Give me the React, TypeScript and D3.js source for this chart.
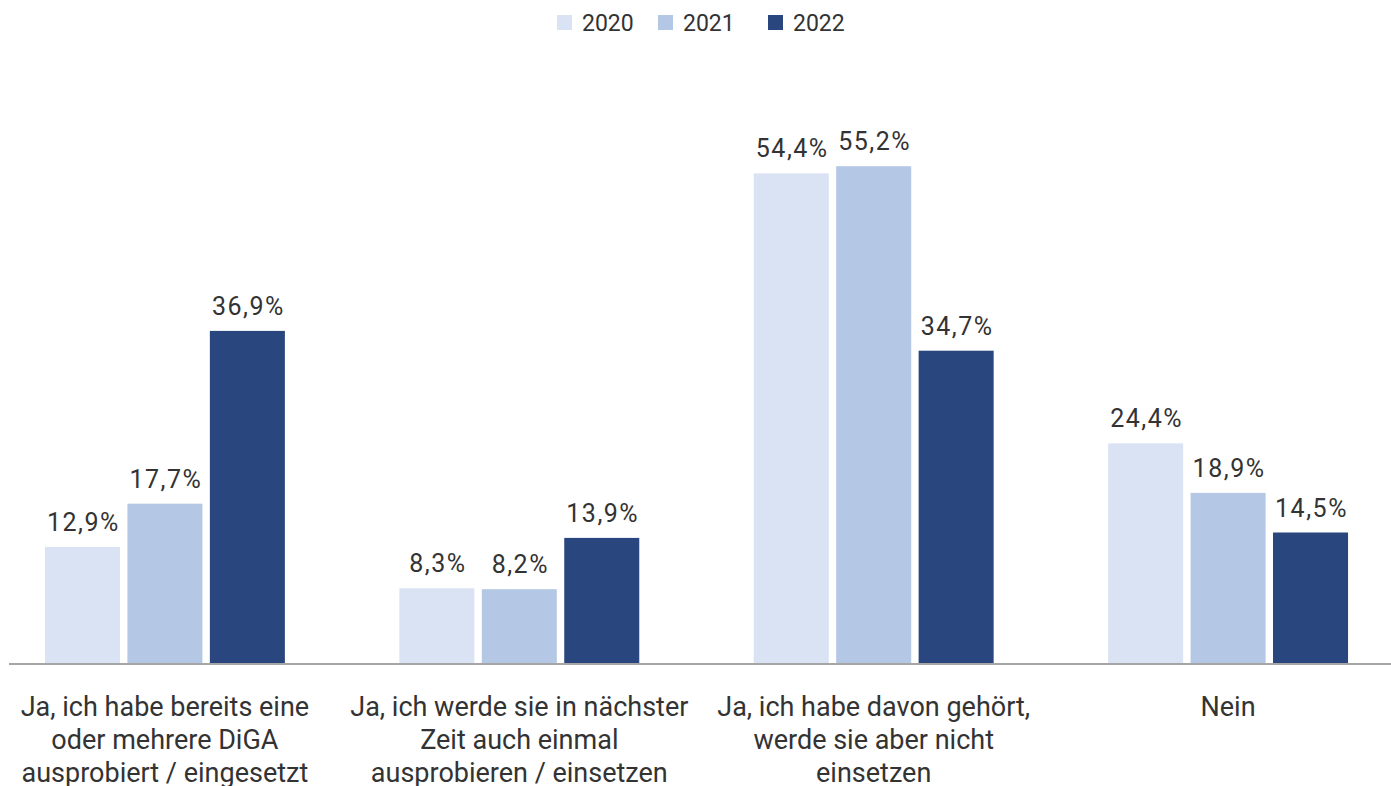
import React from "react";
import * as d3 from "d3";

const categories = [
  ["Ja, ich habe bereits eine", "oder mehrere DiGA", "ausprobiert / eingesetzt"],
  ["Ja, ich werde sie in nächster", "Zeit auch einmal", "ausprobieren / einsetzen"],
  ["Ja, ich habe davon gehört,", "werde sie aber nicht", "einsetzen"],
  ["Nein"],
];
const categoryKeys = ["c1", "c2", "c3", "c4"];
const years = ["2020", "2021", "2022"];
const values2020 = [12.9, 8.3, 54.4, 24.4];
const values2021 = [17.7, 8.2, 55.2, 18.9];
const values2022 = [36.9, 13.9, 34.7, 14.5];
const colors = ["#dae3f3", "#b4c8e6", "#29467e"];

const W = 1391;
const H = 786;
const font = "Roboto, 'Noto Sans', sans-serif";

export default function App() {
  const series = [values2020, values2021, values2022];
  const x0 = d3.scaleBand().domain(categoryKeys).range([12, 1381]).paddingInner(0.323).paddingOuter(0.093);
  const x1 = d3.scaleBand().domain(years).range([0, x0.bandwidth()]).paddingInner(0.09).paddingOuter(0);
  const y = d3.scaleLinear().domain([0, 60]).range([663, 123]);
  const fmt = (v: number) => v.toFixed(1).replace(".", ",") + "%";

  const legendX = [557, 658, 768];

  return (
    <svg width={W} height={H} style={{ position: "absolute", left: 0, top: 0, background: "#fff" }}>
      {years.map((yr, i) => (
        <g key={yr}>
          <rect x={legendX[i]} y={15} width={15} height={15} fill={colors[i]} />
          <text x={legendX[i] + 25} y={31} fontFamily={font} fontSize={23} fill="#333">{yr}</text>
        </g>
      ))}
      {categoryKeys.map((c, ci) => (
        <g key={c} transform={`translate(${x0(c)},0)`}>
          {years.map((yr, si) => {
            const v = series[si][ci];
            const bx = x1(yr)!;
            return (
              <g key={yr}>
                <rect x={bx} y={y(v)} width={x1.bandwidth()} height={y(0) - y(v)} fill={colors[si]} />
                <text x={bx + x1.bandwidth() / 2 + 1} y={y(v) - 16} textAnchor="middle" fontFamily={font} fontSize={25} letterSpacing={1.5} fill="#333">{fmt(v)}</text>
              </g>
            );
          })}
          {categories[ci].map((line, li) => (
            <text key={li} x={x0.bandwidth() / 2} y={716 + li * 33} textAnchor="middle" fontFamily={font} fontSize={27} fill="#333">{line}</text>
          ))}
        </g>
      ))}
      <line x1={9} x2={W} y1={y(0) + 1} y2={y(0) + 1} stroke="#a6a6a6" strokeWidth={2} />
    </svg>
  );
}
